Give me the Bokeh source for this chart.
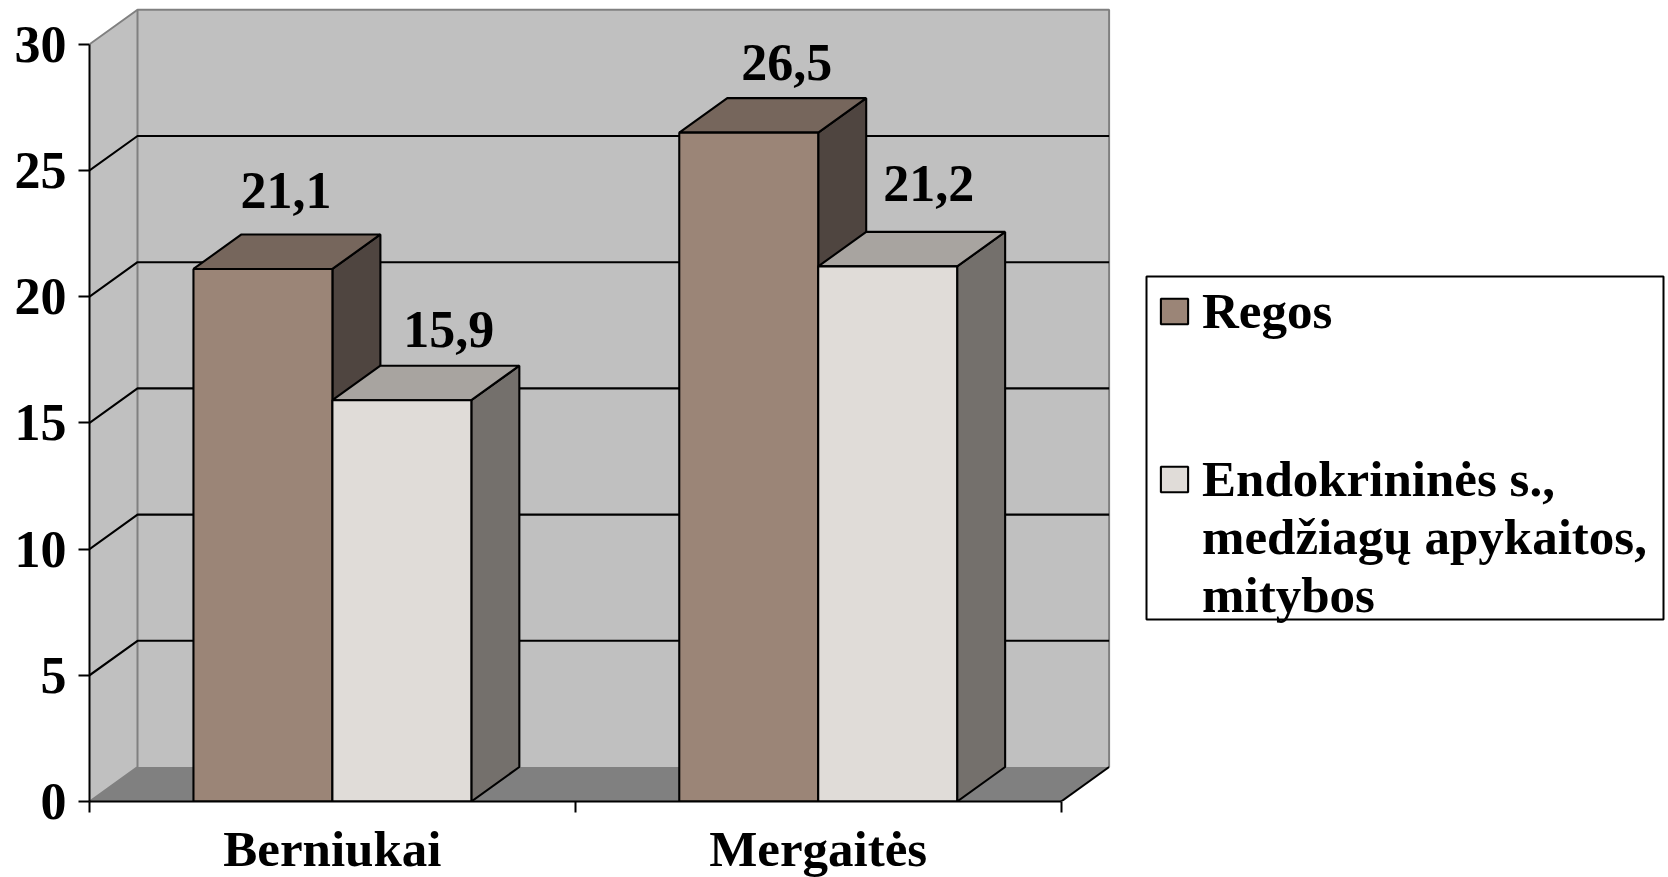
from bokeh.plotting import figure
from bokeh.embed import file_html
from bokeh.resources import INLINE
from bokeh.core.properties import value
from bokeh.models import Range1d, FixedTicker, Legend, LegendItem, ColumnDataSource

categories = ["Berniukai", "Mergaitės"]
legend_regos = ["Regos"]
legend_endo = ["Endokrininės s.,", "medžiagų apykaitos,", "mitybos"]
regos = [21.1, 26.5]
endokrinines = [15.9, 21.2]
y_ticks = [0, 5, 10, 15, 20, 25, 30]

FONT = "Liberation Serif"
FS_NUM = "52px"
FS_TXT = "51px"
PX_X = 485.8   # pixels per category
PX_Y = 25.24   # pixels per value unit
FL, FW, FH = 89, 1579, 801
DX = 48 / PX_X
DY = 34.5 / PX_Y
YMAX = y_ticks[-1]
N = len(categories)

p = figure(width=1668, height=877, output_backend="svg", toolbar_location=None,
           x_range=Range1d(0, FW / PX_X), y_range=Range1d(0, FH / PX_Y),
           frame_width=FW, frame_height=FH,
           min_border_left=FL, min_border_right=0, min_border_top=0, min_border_bottom=0)
p.outline_line_color = None
p.xgrid.visible = False
p.ygrid.visible = False

WALL, FLOOR, EDGE = "#c0c0c0", "#808080", "#808080"
LW = 2.1
# side wall, back wall, floor
p.patch([0, DX, DX, 0], [0, DY, YMAX + DY, YMAX], fill_color=WALL, line_color=None)
p.patch([DX, N + DX, N + DX, DX], [DY, DY, YMAX + DY, YMAX + DY], fill_color=WALL, line_color=None)
p.patch([0, N, N + DX, DX], [0, 0, DY, DY], fill_color=FLOOR, line_color=None)
# wall edges
p.line([0, DX, N + DX, N + DX], [YMAX, YMAX + DY, YMAX + DY, DY], line_color=EDGE, line_width=2)
p.line([DX, DX, 0], [YMAX + DY, DY, 0], line_color=EDGE, line_width=2)
p.line([N, N + DX], [0, DY], line_color="black", line_width=LW)
# gridlines
grid = [v for v in y_ticks if 0 < v < YMAX]
p.multi_line([[0, DX, N + DX] for _ in grid], [[v, v + DY, v + DY] for v in grid],
             line_color="black", line_width=LW)

BAR_W = 0.286
GAP = 0.214
styles = [("#9b8577", "#76665c", "#4f4540"), ("#e0dcd8", "#a8a4a0", "#74706c")]
legend_renderers = []
for s, vals in enumerate([regos, endokrinines]):
    front, top, side = styles[s]
    lefts = [i + GAP + s * BAR_W for i in range(N)]
    rights = [l + BAR_W for l in lefts]
    p.patches([[r, r + DX, r + DX, r] for r in rights],
              [[0, DY, v + DY, v] for v in vals],
              fill_color=side, line_color="black", line_width=LW)
    p.patches([[l, r, r + DX, l + DX] for l, r in zip(lefts, rights)],
              [[v, v, v + DY, v + DY] for v in vals],
              fill_color=top, line_color="black", line_width=LW)
    r = p.quad(left=lefts, right=rights, bottom=0, top=vals,
               fill_color=front, line_color="black", line_width=LW)
    legend_renderers.append(r)

# data labels
lab_vals = regos + endokrinines
lab_x = [i + GAP + BAR_W / 2 + DX / 2 for i in range(N)] + [i + GAP + 1.5 * BAR_W + DX / 2 for i in range(N)]
lab_y = [v + DY for v in lab_vals]
lab_dx = [-1, 14, 23, 17]
lab_dy = [-44, -36, -36, -48]
src = ColumnDataSource(dict(x=lab_x, y=lab_y, t=[f"{v:.1f}".replace(".", ",") for v in lab_vals],
                            xo=lab_dx, yo=lab_dy))
p.text("x", "y", text="t", x_offset="xo", y_offset="yo", source=src, text_align="center",
       text_baseline="alphabetic", text_font=value(FONT), text_font_style="bold",
       text_font_size=FS_NUM, text_color="black")

# axes
ax = p.xaxis[0]
ax.bounds = (0, N)
ax.ticker = FixedTicker(ticks=[i + 0.5 for i in range(N)], minor_ticks=list(range(N + 1)))
ax.major_label_overrides = {i + 0.5: c for i, c in enumerate(categories)}
ax.major_tick_line_color = None
ax.major_tick_out = 0
ax.major_tick_in = 0
ax.minor_tick_line_color = "black"
ax.minor_tick_line_width = 2
ax.minor_tick_out = 11
ax.minor_tick_in = 0
ax.major_label_standoff = 8
ay = p.yaxis[0]
ay.bounds = (0, YMAX)
ay.ticker = FixedTicker(ticks=y_ticks)
ay.minor_tick_line_color = None
ay.major_tick_out = 11
ay.major_tick_in = 0
ay.major_tick_line_width = 2
ay.major_label_standoff = 12
for a, fs in ((ax, FS_TXT), (ay, FS_NUM)):
    a.axis_line_color = "black"
    a.axis_line_width = 2
    a.major_label_text_font = FONT
    a.major_label_text_font_style = "bold"
    a.major_label_text_font_size = fs
    a.major_label_text_color = "black"

# legend box (behind the two legends)
def sx(px):
    return (px - FL) / PX_X
def sy(py):
    return (FH - py) / PX_Y
p.quad(left=[sx(1146)], right=[sx(1663)], bottom=[sy(619)], top=[sy(276)],
       fill_color="white", line_color="black", line_width=2)

def make_legend(labels, renderer, loc):
    items = [LegendItem(label=labels[0], renderers=[renderer])]
    items += [LegendItem(label=t, renderers=[]) for t in labels[1:]]
    lg = Legend(items=items, location=loc, orientation="vertical", border_line_color=None,
                background_fill_alpha=0.0, label_text_font=FONT, label_text_font_style="bold",
                label_text_font_size=FS_TXT, label_text_color="black",
                glyph_width=34, glyph_height=32, label_standoff=11, spacing=0,
                padding=0, margin=0)
    p.add_layout(lg, "center")

make_legend(legend_regos, legend_renderers[0], (1068, 461))
make_legend(legend_endo, legend_renderers[1], (1068, 177))

open("out.html", "w").write(file_html(p, INLINE))
